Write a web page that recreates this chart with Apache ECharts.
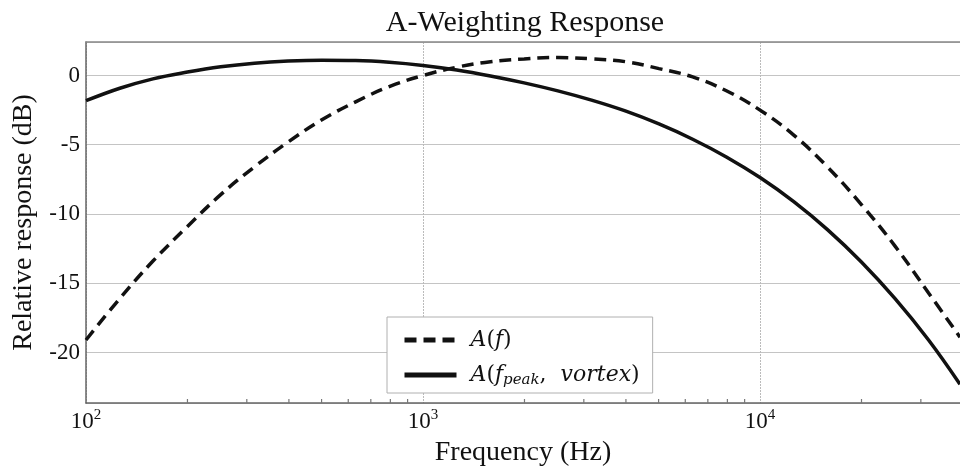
<!DOCTYPE html>
<html>
<head>
<meta charset="utf-8">
<script src="https://cdn.jsdelivr.net/npm/echarts@6/dist/echarts.min.js"></script>
<style>
  html, body { margin: 0; padding: 0; background: #fff; }
  #chart { width: 960px; height: 475px; }
</style>
</head>
<body>
<div id="chart"></div>
<script>
let freqs = [100, 126, 158, 200, 251, 316, 398, 501, 631, 794, 1000, 1259, 1585, 1995, 2512, 3162, 3981, 5012, 6310, 7943, 10000, 12589, 15849, 19953, 25119, 31623, 39200];

// A(f): dashed line (standard A-weighting)
let dbA = [-19.1, -16.1, -13.4, -10.9, -8.6, -6.6, -4.8, -3.2, -1.9, -0.8, 0, 0.6, 1.0, 1.2, 1.3, 1.2, 1.0, 0.5, -0.1, -1.1, -2.5, -4.3, -6.6, -9.3, -12.3, -15.7, -18.9];

// A(f_peak, vortex): solid line
let dbV = [-1.82, -0.92, -0.24, 0.25, 0.63, 0.89, 1.04, 1.10, 1.08, 0.96, 0.73, 0.40, -0.03, -0.53, -1.11, -1.78, -2.56, -3.50, -4.60, -5.88, -7.37, -9.11, -11.13, -13.45, -16.10, -19.10, -22.3];

// minor ticks on the log axis
let minorTicks = [200, 300, 400, 500, 600, 700, 800, 900, 2000, 3000, 4000, 5000, 6000, 7000, 8000, 9000, 20000, 30000];

let xMin = 100, xMax = 39200;
let yMin = -23.65, yMax = 2.42;

let serif = 'Liberation Serif';
let mathFont = 'DejaVu Serif';

let myChart = echarts.init(document.getElementById('chart'));

function pair(xs, ys) {
  return xs.map((x, i) => [x, ys[i]]);
}

let option = {
  backgroundColor: '#fff',
  animation: false,
  title: {
    text: 'A-Weighting Response',
    left: 520,
    top: 3,
    textAlign: 'center',
    textStyle: { fontFamily: serif, fontSize: 30, fontWeight: 'normal', color: '#111' }
  },
  legend: {
    data: ['A(f)', 'A(f_peak, vortex)'],
    orient: 'vertical',
    left: 387,
    top: 317,
    padding: [12, 13, 5, 15],
    itemGap: 13,
    itemWidth: 52,
    itemHeight: 14,
    backgroundColor: '#fff',
    borderColor: '#b0b0b0',
    borderWidth: 1,
    borderRadius: 0,
    itemStyle: { opacity: 0, borderWidth: 0 },
    lineStyle: { width: 5 },
    formatter: function (name) {
      if (name === 'A(f)') return '{i|A}{n|(}{i|f}{n|)}';
      return '{i|A}{n|(}{i|f}{s|peak}{n|,  }{i|vortex}{n|)}';
    },
    textStyle: {
      padding: [0, 0, 0, 9],
      rich: {
        i: { fontFamily: mathFont, fontStyle: 'italic', fontSize: 22, color: '#111', lineHeight: 26 },
        n: { fontFamily: mathFont, fontSize: 22, color: '#111', lineHeight: 26 },
        s: { fontFamily: mathFont, fontStyle: 'italic', fontSize: 15, color: '#111', lineHeight: 14, verticalAlign: 'bottom' }
      }
    }
  },
  grid: {
    left: 86,
    right: 0,
    top: 42,
    bottom: 72,
    outerBoundsMode: 'none'
  },
  xAxis: [{
    type: 'log',
    logBase: 10,
    min: xMin,
    max: xMax,
    name: 'Frequency (Hz)',
    nameLocation: 'middle',
    nameGap: 35,
    nameTextStyle: { fontFamily: serif, fontSize: 28, color: '#111' },
    axisLine: { show: true, onZero: false, lineStyle: { color: '#666', width: 1.5 } },
    axisTick: { show: false },
    axisLabel: {
      margin: 5,
      showMaxLabel: false,
      formatter: function (v) {
        let e = Math.log10(v);
        if (Math.abs(e - Math.round(e)) > 1e-6) return '';
        return '{b|10}{s|' + Math.round(e) + '}';
      },
      rich: {
        b: { fontFamily: serif, fontSize: 23, color: '#111', lineHeight: 28 },
        s: { fontFamily: serif, fontSize: 15, color: '#111', lineHeight: 15, verticalAlign: 'top' }
      }
    },
    splitLine: { show: true, lineStyle: { color: '#bbb', width: 1, type: [2, 1] } }
  }, {
    type: 'log',
    logBase: 10,
    min: xMin,
    max: xMax,
    position: 'top',
    axisLine: { show: true, onZero: false, lineStyle: { color: '#888', width: 1.5 } },
    axisTick: { show: false },
    axisLabel: { show: false },
    splitLine: { show: false }
  }],
  yAxis: {
    type: 'value',
    min: yMin,
    max: yMax,
    splitNumber: 5,
    name: 'Relative response (dB)',
    nameLocation: 'middle',
    nameGap: 48,
    nameTextStyle: { fontFamily: serif, fontSize: 28, color: '#111' },
    axisLine: { show: true, lineStyle: { color: '#666', width: 1.5 } },
    axisTick: { show: false },
    axisLabel: {
      showMinLabel: false,
      showMaxLabel: false,
      margin: 6,
      fontFamily: serif,
      fontSize: 23,
      color: '#111'
    },
    splitLine: { show: true, lineStyle: { color: '#c4c4c4', width: 1.2 } }
  },
  series: [
    {
      name: 'A(f)',
      type: 'line',
      data: pair(freqs, dbA),
      smooth: 0.4,
      symbol: 'none',
      lineStyle: { color: '#111', width: 3.5, type: [12, 7] },
      itemStyle: { color: '#111' },
      z: 3
    },
    {
      name: 'A(f_peak, vortex)',
      type: 'line',
      data: pair(freqs, dbV),
      smooth: 0.4,
      symbol: 'none',
      lineStyle: { color: '#111', width: 3.5 },
      itemStyle: { color: '#111' },
      z: 3
    },
    {
      name: 'minor',
      type: 'custom',
      silent: true,
      data: minorTicks.map(f => [f, yMin]),
      renderItem: function (params, api) {
        let p = api.coord([api.value(0), api.value(1)]);
        return {
          type: 'line',
          shape: { x1: p[0], y1: p[1], x2: p[0], y2: p[1] - 4 },
          style: { stroke: '#777', lineWidth: 1.2 }
        };
      },
      z: 2
    }
  ]
};

myChart.setOption(option);
window.addEventListener('resize', () => {
  myChart.resize();
}, true);
</script>
</body>
</html>
